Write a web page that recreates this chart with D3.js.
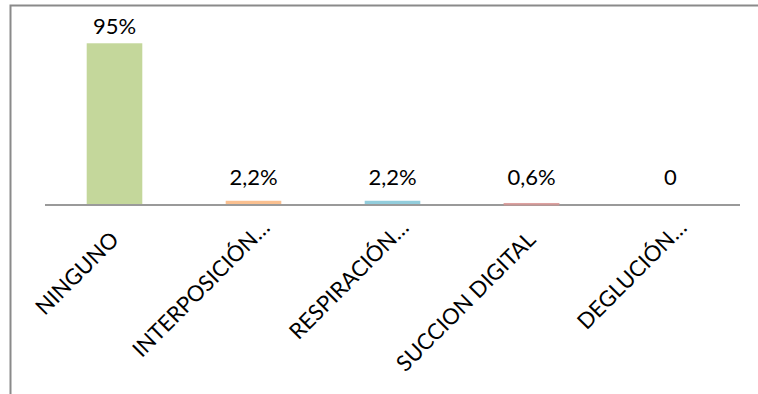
<!DOCTYPE html>
<html>
<head>
<meta charset="utf-8">
<script src="https://cdn.jsdelivr.net/npm/d3@7/dist/d3.min.js"></script>
<style>
  html, body { margin: 0; padding: 0; background: #ffffff; }
  svg { display: block; }
  text { font-family: Lato, "Open Sans", "DejaVu Sans", sans-serif; fill: #000; }
</style>
</head>
<body>
<svg id="chart" width="758" height="394"></svg>
<script>
// Chart data
const categories = ["NINGUNO", "INTERPOSICIÓN…", "RESPIRACIÓN…", "SUCCION DIGITAL", "DEGLUCIÓN…"];
const values = [95, 2.2, 2.2, 0.6, 0];
const valueLabels = ["95%", "2,2%", "2,2%", "0,6%", "0"];
const barColors = ["#c4d79b", "#fac090", "#92cddc", "#d99694", "#c4d79b"];

const svg = d3.select("#chart");
const W = 758, H = 394;

// Chart frame (only its top and left edges fall inside the view)
svg.append("path")
  .attr("d", `M10.5,${H} V5.5 H${W}`)
  .attr("fill", "none")
  .attr("stroke", "#8a8a8a")
  .attr("stroke-width", 2);

const plot = { left: 45, right: 740, base: 204.5 };

const x = d3.scaleBand()
  .domain(categories)
  .range([plot.left, plot.right])
  .paddingInner(0.6)
  .paddingOuter(0.3);

const y = d3.scaleLinear()
  .domain([0, 100])
  .range([plot.base, plot.base - 169.7]);

const data = categories.map((c, i) => ({
  cat: c, value: values[i], label: valueLabels[i], color: barColors[i]
}));

// Bars
svg.append("g")
  .selectAll("rect")
  .data(data)
  .join("rect")
  .attr("x", d => x(d.cat))
  .attr("y", d => y(d.value))
  .attr("width", x.bandwidth())
  .attr("height", d => y(0) - y(d.value))
  .attr("fill", d => d.color);

// Category axis line
svg.append("line")
  .attr("x1", plot.left).attr("x2", plot.right)
  .attr("y1", plot.base + 0.5).attr("y2", plot.base + 0.5)
  .attr("stroke", "#9a9a9a")
  .attr("stroke-width", 2);

// Small red bar sits on the axis line
svg.append("g")
  .selectAll("rect")
  .data(data.filter(d => d.value > 0 && y(0) - y(d.value) < 2))
  .join("rect")
  .attr("x", d => x(d.cat))
  .attr("y", d => y(d.value) - 0.5)
  .attr("width", x.bandwidth())
  .attr("height", d => y(0) - y(d.value) + 1.5)
  .attr("fill", d => d.color)
  .attr("opacity", 0.75);

// Value labels
svg.append("g")
  .selectAll("text")
  .data(data)
  .join("text")
  .attr("x", d => x(d.cat) + x.bandwidth() / 2)
  .attr("y", d => Math.min(y(d.value) - 9, y(0) - 20))
  .attr("text-anchor", "middle")
  .attr("font-size", 22)
  .text(d => d.label);

// Rotated category labels
svg.append("g")
  .selectAll("text")
  .data(data)
  .join("text")
  .attr("transform", d => {
    const cx = x(d.cat) + x.bandwidth() / 2;
    return `translate(${cx},${plot.base + 31}) rotate(-45)`;
  })
  .attr("x", d => d.cat.endsWith("…") ? 17 : 0)
  .attr("dy", "0.36em")
  .attr("text-anchor", "end")
  .attr("font-size", 22)
  .text(d => d.cat);
</script>
</body>
</html>
